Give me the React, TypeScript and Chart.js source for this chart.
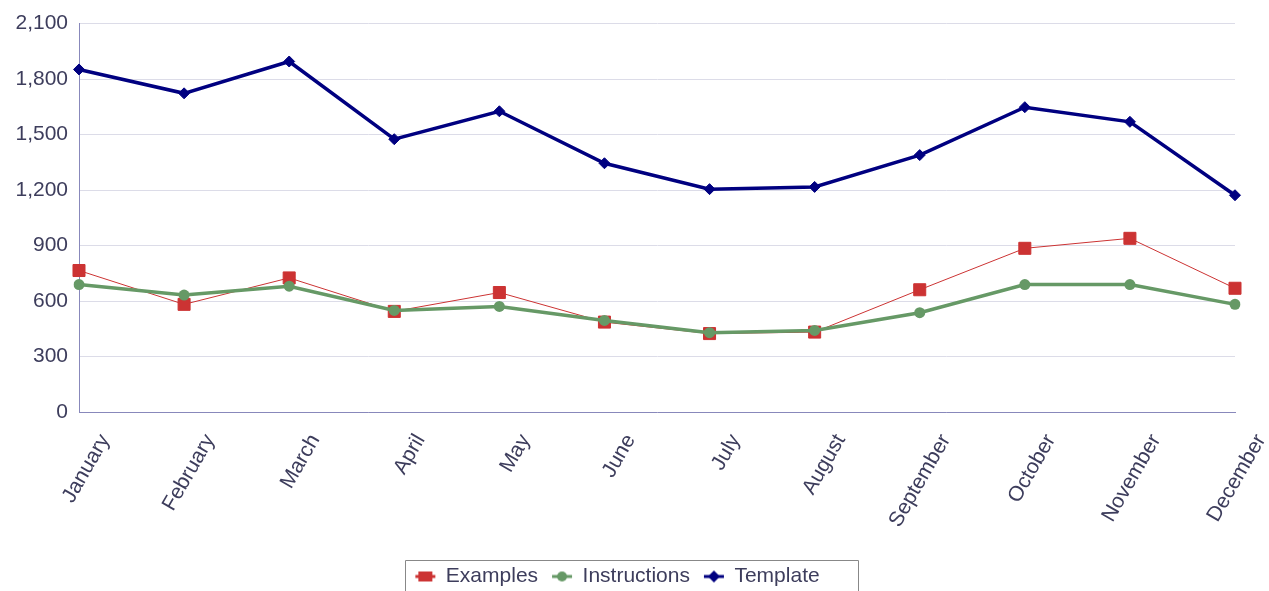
import React, { useEffect, useRef } from "react";
import { Chart, registerables } from "chart.js";

Chart.register(...registerables);

const months = ["January", "February", "March", "April", "May", "June", "July", "August", "September", "October", "November", "December"];
const examples = [765, 582, 725, 544, 646, 486, 424, 432, 661, 885, 939, 669];
const instructions = [689, 632, 680, 549, 571, 495, 429, 441, 537, 689, 689, 582];
const template = [1852, 1723, 1895, 1475, 1626, 1345, 1205, 1217, 1389, 1648, 1569, 1172];
const yTicks = [0, 300, 600, 900, 1200, 1500, 1800, 2100];

const RED = "#cc3333";
const GREEN = "#669966";
const NAVY = "#000080";
const TEXT = "#3d3d5c";
const FONT = "'Liberation Sans', Arial, sans-serif";
const FS = 21;

function makeMarker(kind: string, color: string): HTMLCanvasElement {
  const c = document.createElement("canvas");
  c.width = 22;
  c.height = 14;
  const ctx = c.getContext("2d")!;
  ctx.strokeStyle = color;
  ctx.fillStyle = color;
  ctx.lineWidth = 3;
  ctx.beginPath();
  ctx.moveTo(1, 7);
  ctx.lineTo(21, 7);
  ctx.stroke();
  ctx.beginPath();
  if (kind === "rect") {
    ctx.rect(4, 2, 14, 10);
  } else if (kind === "circle") {
    ctx.arc(11, 7, 5, 0, Math.PI * 2);
  } else {
    ctx.moveTo(11, 1);
    ctx.lineTo(17, 7);
    ctx.lineTo(11, 13);
    ctx.lineTo(5, 7);
    ctx.closePath();
  }
  ctx.fill();
  return c;
}

const legendFrame = {
  id: "legendFrame",
  afterDraw(chart: any) {
    const lg = chart.legend;
    if (!lg || !lg.legendHitBoxes || !lg.legendHitBoxes.length) return;
    const hb = lg.legendHitBoxes;
    const first = hb[0];
    const last = hb[hb.length - 1];
    const cy = first.top + first.height / 2;
    const left = Math.round(first.left - 10) + 0.5;
    const right = Math.round(last.left + last.width + 38) + 0.5;
    const top = Math.round(cy - 17) + 0.5;
    const bottom = chart.height + 2;
    const ctx = chart.ctx;
    ctx.save();
    ctx.strokeStyle = "#888888";
    ctx.lineWidth = 1;
    ctx.beginPath();
    ctx.moveTo(left, bottom);
    ctx.lineTo(left, top);
    ctx.lineTo(right, top);
    ctx.lineTo(right, bottom);
    ctx.stroke();
    ctx.restore();
  },
};

export default function App() {
  const ref = useRef<HTMLCanvasElement | null>(null);

  useEffect(() => {
    if (!ref.current) return;
    const markers = [makeMarker("rect", RED), makeMarker("circle", GREEN), makeMarker("diamond", NAVY)];
    const chart = new Chart(ref.current, {
      type: "line",
      data: {
        labels: months,
        datasets: [
          {
            label: "Examples",
            data: examples,
            borderColor: RED,
            backgroundColor: RED,
            borderWidth: 1,
            pointStyle: "rect",
            pointRadius: 8.5,
            pointBorderWidth: 1,
            pointBorderColor: RED,
            pointBackgroundColor: RED,
            order: 3,
          },
          {
            label: "Instructions",
            data: instructions,
            borderColor: GREEN,
            backgroundColor: GREEN,
            borderWidth: 3.5,
            pointStyle: "circle",
            pointRadius: 5.5,
            pointBorderWidth: 0,
            pointBackgroundColor: GREEN,
            order: 2,
          },
          {
            label: "Template",
            data: template,
            borderColor: NAVY,
            backgroundColor: NAVY,
            borderWidth: 3.5,
            pointStyle: "rectRot",
            pointRadius: 5.5,
            pointBorderWidth: 1,
            pointBorderColor: NAVY,
            pointBackgroundColor: NAVY,
            order: 1,
          },
        ],
      },
      options: {
        animation: false,
        responsive: true,
        maintainAspectRatio: false,
        layout: { padding: { left: 0, right: 34, top: 11, bottom: -6 } },
        plugins: {
          tooltip: { enabled: false },
          legend: {
            position: "bottom",
            labels: {
              color: TEXT,
              font: { family: FONT, size: FS },
              usePointStyle: true,
              pointStyleWidth: 20,
              padding: 14,
              generateLabels: () =>
                ["Examples", "Instructions", "Template"].map((t, i) => ({
                  text: t,
                  pointStyle: markers[i] as any,
                  fillStyle: "transparent",
                  strokeStyle: "transparent",
                  lineWidth: 0,
                  hidden: false,
                  datasetIndex: i,
                  fontColor: TEXT,
                })),
            },
          },
        },
        scales: {
          x: {
            grid: { display: false, drawTicks: false },
            border: { color: "#8888bb", width: 1 },
            afterFit: (s: any) => {
              s.height = 140;
              s.paddingLeft = 0;
              s.paddingRight = 0;
            },
            ticks: {
              color: TEXT,
              font: { family: FONT, size: FS },
              minRotation: 60,
              maxRotation: 60,
              padding: 18,
              labelOffset: 26,
              autoSkip: false,
            },
          },
          y: {
            min: 0,
            max: 2100,
            afterBuildTicks: (axis: any) => {
              axis.ticks = yTicks.map((v) => ({ value: v }));
            },
            afterFit: (s: any) => {
              s.width = 79;
            },
            grid: { color: "#dcdce8", drawTicks: false },
            border: { color: "#8888bb", width: 1 },
            ticks: {
              color: TEXT,
              font: { family: FONT, size: FS },
              padding: 11,
            },
          },
        },
      },
      plugins: [legendFrame],
    });
    return () => chart.destroy();
  }, []);

  return (
    <div style={{ position: "fixed", left: 0, top: 0, width: "1269px", height: "591px" }}>
      <canvas ref={ref} />
    </div>
  );
}
